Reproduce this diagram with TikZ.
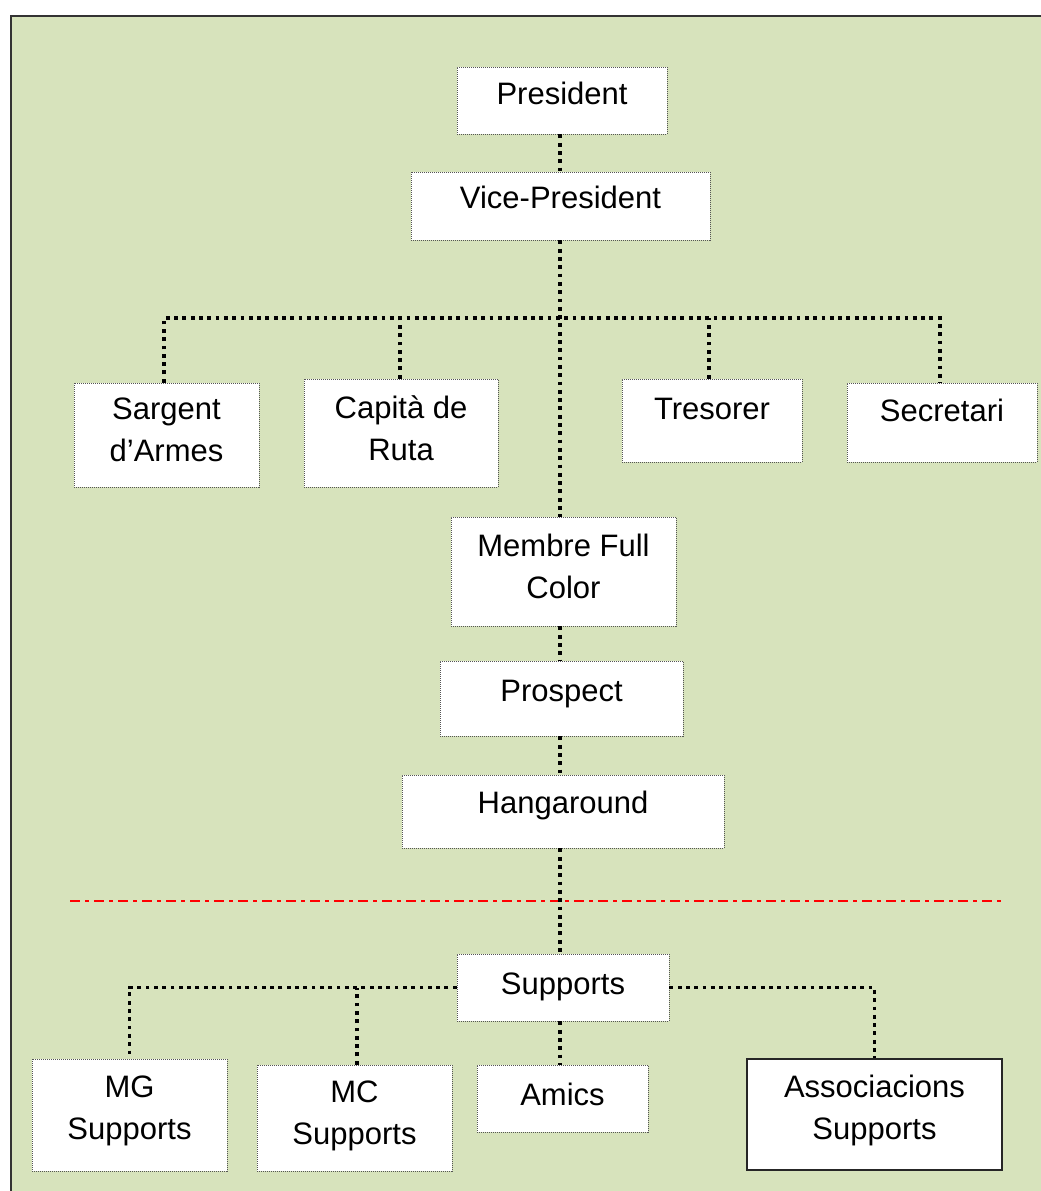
\documentclass[tikz,border=0pt]{standalone}
\usepackage{fontspec}
\setmainfont{Liberation Sans}
\definecolor{bggreen}{HTML}{D7E3BC}
\definecolor{boxline}{HTML}{555555}
\newcommand{\lift}[1]{\rule[-#1]{0pt}{#1}}
\tikzset{
  box/.style={draw=boxline, line width=0.9pt, dash pattern=on 1pt off 1pt, fill=white,
    inner sep=0pt, align=center, text height=22pt, font=\fontsize{31pt}{42pt}\selectfont},
  twoline/.style={draw=boxline, line width=0.9pt, dash pattern=on 1pt off 1pt, fill=white,
    inner sep=0pt, align=center, font=\fontsize{31pt}{42pt}\selectfont},
  solidbox/.style={draw=black!85, line width=2pt, fill=white, inner sep=0pt, align=center,
    font=\fontsize{31pt}{42pt}\selectfont},
  link/.style={draw=black, line width=3.8pt, dash pattern=on 3.8pt off 4.5pt},
  sepline/.style={draw=red, line width=1.8pt, dash pattern=on 10pt off 5pt on 4pt off 5pt},
}
\begin{document}
\begin{tikzpicture}[x=1pt,y=-1pt]
\useasboundingbox (0,0) rectangle (1041,1191);
\fill[white] (0,0) rectangle (1041,1191);
\filldraw[fill=bggreen, draw=black!80, line width=2pt] (11,16) rectangle (1060,1210);

% nodes
\node[box, minimum width=210pt, minimum height=67pt, text depth=15pt] (pres) at (562,100.5) {President};
\node[box, minimum width=299pt, minimum height=68pt, text depth=18pt] (vice) at (560.5,206) {Vice-President};
\node[twoline, minimum width=185pt, minimum height=104pt] (sarg) at (166.5,435) {Sargent\\d'Armes\lift{10pt}};
\node[twoline, minimum width=194pt, minimum height=108pt] (cap) at (401,433) {Capità de\\Ruta\lift{10pt}};
\node[box, minimum width=180pt, minimum height=83pt, text depth=25pt] (tres) at (712,420.5) {Tresorer};
\node[box, minimum width=190pt, minimum height=79pt, text depth=25pt] (secr) at (942,422.5) {Secretari};
\node[twoline, minimum width=225pt, minimum height=109pt] (memb) at (563.5,571.5) {Membre Full\\Color\lift{10pt}};
\node[box, minimum width=243pt, minimum height=75pt, text depth=17pt] (prosp) at (561.5,698.5) {Prospect};
\node[box, minimum width=322pt, minimum height=73pt, text depth=19pt] (hang) at (563,811.5) {Hangaround};
\node[box, minimum width=212pt, minimum height=67pt, text depth=9pt] (supp) at (563,987.5) {Supports};
\node[twoline, minimum width=195pt, minimum height=112pt] (mg) at (129.5,1115) {MG\\Supports\lift{14pt}};
\node[twoline, minimum width=195pt, minimum height=106pt] (mc) at (354.5,1118) {MC\\Supports\lift{10pt}};
\node[box, minimum width=171pt, minimum height=67pt, text depth=9pt] (amics) at (562.5,1098.5) {Amics};
\node[solidbox, minimum width=255pt, minimum height=111pt] (assoc) at (874.5,1114.5) {Associacions\\Supports\lift{14pt}};

% separator
\coordinate (sepL) at (70,901);
\coordinate (sepR) at (1003,901);
\draw[sepline] (sepL) -- (sepR);

% connectors
\coordinate (bar) at (560,318);
\draw[link] (pres.south -| bar) -- (vice.north -| bar);
\draw[link] (vice.south -| bar) -- (memb.north -| bar);
\draw[link] (sarg.north -| 164,0) -- (bar -| 164,0) -- (bar -| 940,0) -- (secr.north -| 940,0);
\draw[link] (cap.north -| 400,0) -- (bar -| 400,0);
\draw[link] (tres.north -| 709,0) -- (bar -| 709,0);
\draw[link] (memb.south -| bar) -- (prosp.north -| bar);
\draw[link] (prosp.south -| bar) -- (hang.north -| bar);
\draw[link] (hang.south -| bar) -- (supp.north -| bar);
\draw[link] (supp.west) -- (supp.west -| mg.north) -- (mg.north);
\draw[link] (mc.north -| 357,0) -- (supp.west -| 357,0);
\draw[link] (supp.south -| bar) -- (amics.north -| bar);
\draw[link] (supp.east) -- (supp.east -| assoc.north) -- (assoc.north);
\end{tikzpicture}
\end{document}
